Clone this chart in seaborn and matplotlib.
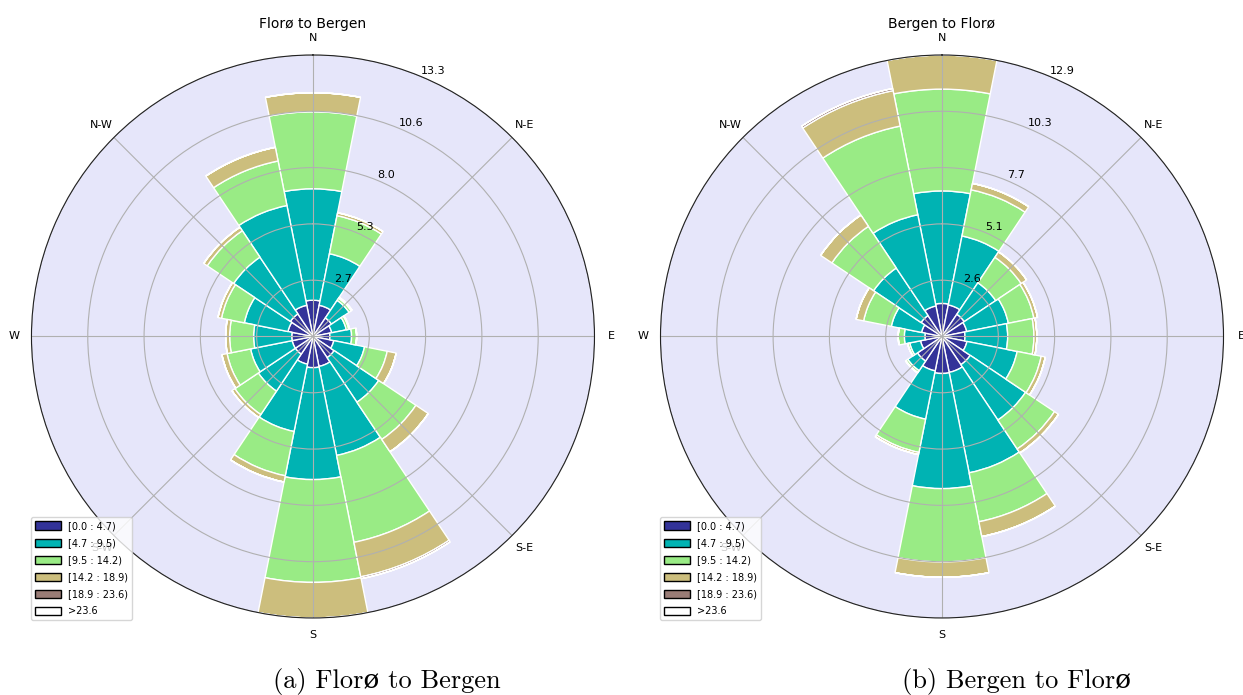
import numpy as np
import matplotlib
matplotlib.use("Agg")
import matplotlib.pyplot as plt
from matplotlib.patches import Rectangle
import seaborn as sns

# Sixteen compass sectors, clockwise from north
directions = ["N", "NNE", "NE", "ENE", "E", "ESE", "SE", "SSE",
              "S", "SSW", "SW", "WSW", "W", "WNW", "NW", "NNW"]
compass_labels = ["N", "N-E", "E", "S-E", "S", "S-W", "W", "N-W"]
speed_bins = ["[0.0 : 4.7)", "[4.7 : 9.5)", "[9.5 : 14.2)",
              "[14.2 : 18.9)", "[18.9 : 23.6)", ">23.6"]

# Florø to Bergen: frequency (%) per sector for each wind-speed bin
fb_0_47 = [1.71, 1.50, 1.05, 0.90, 0.80, 1.00, 1.20, 1.44,
           1.47, 1.33, 1.00, 1.00, 1.00, 1.20, 1.28, 1.50]
fb_47_95 = [5.26, 2.48, 1.00, 0.70, 1.02, 1.48, 2.53, 4.28,
            5.28, 3.24, 2.10, 2.00, 1.80, 2.10, 3.22, 4.80]
fb_95_142 = [3.63, 1.83, 0.12, 0.12, 0.24, 1.09, 2.11, 4.18,
             4.85, 2.13, 1.33, 1.13, 1.13, 1.10, 1.50, 2.14]
fb_142_189 = [0.90, 0.14, 0.05, 0.03, 0.00, 0.43, 0.70, 1.66,
              1.68, 0.30, 0.17, 0.25, 0.19, 0.17, 0.20, 0.66]
fb_189_236 = [0.00, 0.00, 0.00, 0.00, 0.00, 0.00, 0.00, 0.09,
              0.00, 0.00, 0.00, 0.00, 0.00, 0.00, 0.00, 0.00]
fb_236_up = [0.0] * 16

# Bergen to Florø
bf_0_47 = [1.51, 1.47, 1.22, 1.15, 1.05, 1.16, 1.55, 1.67,
           1.69, 1.60, 1.35, 1.00, 0.78, 0.95, 1.15, 1.42]
bf_47_95 = [5.14, 3.21, 1.73, 1.94, 1.95, 2.34, 3.04, 4.68,
            5.26, 2.25, 0.53, 0.50, 0.94, 1.41, 2.61, 4.25]
bf_95_142 = [4.65, 2.15, 1.40, 1.19, 1.20, 1.12, 1.59, 2.28,
             3.35, 1.55, 0.10, 0.10, 0.28, 1.29, 2.29, 4.13]
bf_142_189 = [1.56, 0.30, 0.30, 0.17, 0.13, 0.19, 0.22, 0.69,
              0.70, 0.10, 0.02, 0.00, 0.00, 0.35, 0.62, 1.65]
bf_189_236 = [0.00, 0.00, 0.00, 0.00, 0.00, 0.00, 0.00, 0.00,
              0.00, 0.00, 0.00, 0.00, 0.00, 0.00, 0.00, 0.10]
bf_236_up = [0.0] * 16

fb_table = [fb_0_47, fb_47_95, fb_95_142, fb_142_189, fb_189_236, fb_236_up]
bf_table = [bf_0_47, bf_47_95, bf_95_142, bf_142_189, bf_189_236, bf_236_up]

sns.set_style("white", {"axes.axisbelow": "line"})
plt.rcParams["font.family"] = ["DejaVu Sans"]
plt.rcParams["text.color"] = "black"
plt.rcParams["xtick.color"] = "black"
plt.rcParams["ytick.color"] = "black"

bin_colors = plt.get_cmap("terrain")(np.linspace(0, 1, len(speed_bins)))


def draw_rose(ax, table, title):
    table = np.asarray(table, dtype=float)
    n = table.shape[1]
    theta = np.deg2rad(np.arange(n) * 360.0 / n)
    width = 2 * np.pi / n
    ax.set_theta_zero_location("N")
    ax.set_theta_direction(-1)
    ax.set_facecolor("lavender")

    offset = np.zeros(n)
    for i, vals in enumerate(table):
        ax.bar(theta, vals, width=width, bottom=offset, color=bin_colors[i],
               edgecolor="white", linewidth=1.0, zorder=1)
        offset = offset + vals

    rmax = offset.max()
    ax.set_ylim(0, rmax)
    radii = np.linspace(0, rmax, 6)[1:]
    ax.set_rgrids(radii, labels=["%.1f" % r for r in radii], angle=22.5,
                  fontsize=8)
    ax.set_thetagrids(np.arange(0, 360, 45), labels=compass_labels, fontsize=8)
    ax.tick_params(axis="x", pad=2)
    ax.grid(True, color="#b0b0b0", linewidth=0.8)
    ax.spines["polar"].set_color("#222222")
    ax.spines["polar"].set_linewidth(0.8)
    ax.set_title(title, fontsize=10, pad=3)

    handles = [Rectangle((0, 0), 0.2, 0.2, facecolor=c, edgecolor="black")
               for c in bin_colors]
    ax.legend(handles, speed_bins, loc="lower left", bbox_to_anchor=(0, -0.004),
              borderaxespad=0, fontsize=7, handlelength=2.6, handleheight=0.9,
              labelspacing=0.73, frameon=True)


fig = plt.figure(figsize=(12.43, 6.95), dpi=100)
ax1 = fig.add_axes([0.02494, 0.1108, 0.4537, 0.8101], projection="polar")
ax2 = fig.add_axes([0.5310, 0.1108, 0.4537, 0.8101], projection="polar")

draw_rose(ax1, fb_table, "Florø to Bergen")
draw_rose(ax2, bf_table, "Bergen to Florø")

caption_font = ["cmr10", "DejaVu Serif"]
fig.text(0.311, 0.020, "(a) Florø to Bergen", ha="center", va="center",
         fontsize=19, family=caption_font)
fig.text(0.818, 0.020, "(b) Bergen to Florø", ha="center", va="center",
         fontsize=19, family=caption_font)

fig.savefig("out.png", dpi=100)
